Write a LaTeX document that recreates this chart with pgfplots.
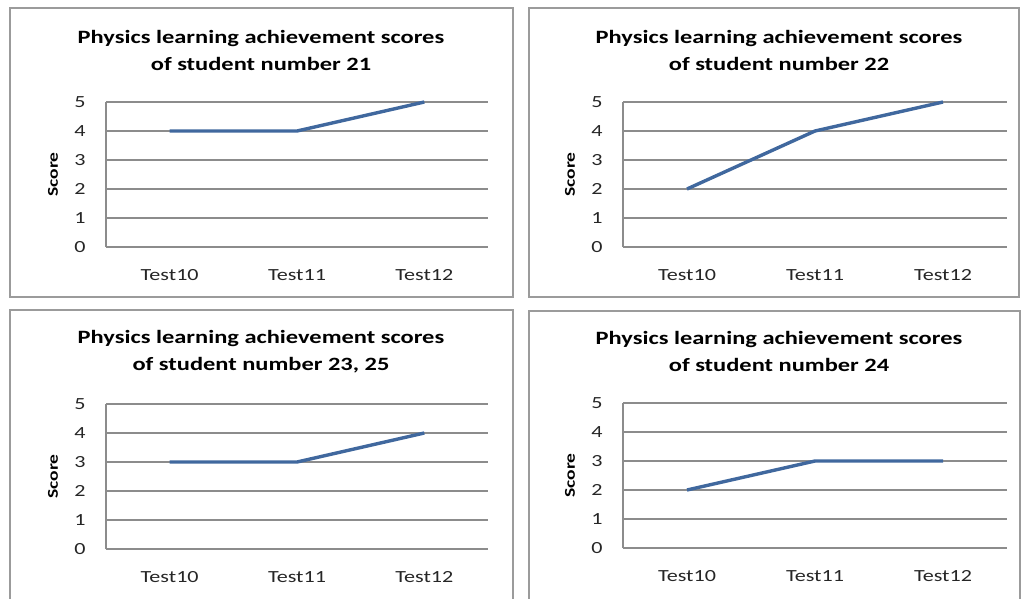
\documentclass[border=0pt]{standalone}
\usepackage{fontspec}
\setmainfont[FakeStretch=1.3]{Carlito}
\usepackage{pgfplots}
\pgfplotsset{compat=1.18}

\definecolor{serieblue}{RGB}{64,104,158}
\definecolor{gridgray}{RGB}{140,140,140}
\definecolor{framegray}{RGB}{155,155,155}

\pgfplotsset{
  panel/.style={
    scale only axis, width=382pt, height=145pt,
    xmin=-0.5, xmax=2.5, ymin=0, ymax=5,
    xtick={0,1,2}, xticklabels={Test10,Test11,Test12},
    ytick={0,...,5},
    axis x line*=bottom, axis y line*=left,
    axis line style={gridgray, line width=1.4pt, -},
    major tick length=0pt,
    ymajorgrids, grid style={gridgray, line width=1.4pt},
    tick label style={font=\fontsize{17}{20}\selectfont, text=black!85},
    /pgf/number format/assume math mode=true,
    xticklabel style={yshift=-19pt},
    yticklabel style={xshift=-17pt},
    ylabel={Score},
    every axis y label/.style={at={([xshift=-53pt]axis description cs:0,0.5)},
      rotate=90, anchor=center, font=\bfseries\fontsize{15}{18}\selectfont},
    title style={at={([xshift=-36pt, yshift=46pt]axis description cs:0.5,1)},
      anchor=center, align=center, font=\bfseries\fontsize{18.8}{27}\selectfont},
    clip=false,
  },
  scoreline/.style={serieblue, line width=3.4pt, no markers},
}

\begin{document}
\begin{tikzpicture}[x=1pt,y=1pt]
\useasboundingbox (0,0) rectangle (1022,598);
\clip (0,0) rectangle (1022,598);

% panel frames
\draw[framegray, line width=2pt] (9.5,590) rectangle (513,301);
\draw[framegray, line width=2pt] (529,590) rectangle (1019,301);
\draw[framegray, line width=2pt] (10,288) rectangle (513,-5);
\draw[framegray, line width=2pt] (529,287) rectangle (1020,-5);

% student 21
\begin{axis}[panel, at={(106pt,351pt)}, anchor=south west,
  title={Physics learning achievement scores\\of student number 21}]
  \addplot[scoreline] coordinates {(0,4) (1,4) (2,5)};
\end{axis}

% student 22
\begin{axis}[panel, width=384pt, at={(623pt,351pt)}, anchor=south west,
  title={Physics learning achievement scores\\of student number 22}]
  \addplot[scoreline] coordinates {(0,2) (1,4) (2,5)};
\end{axis}

% students 23 and 25
\begin{axis}[panel, at={(106pt,49pt)}, anchor=south west,
  title={Physics learning achievement scores\\of student number 23, 25}]
  \addplot[scoreline] coordinates {(0,3) (1,3) (2,4)};
\end{axis}

% student 24
\begin{axis}[panel, width=384pt, at={(623pt,50pt)}, anchor=south west,
  title={Physics learning achievement scores\\of student number 24}]
  \addplot[scoreline] coordinates {(0,2) (1,3) (2,3)};
\end{axis}
\end{tikzpicture}
\end{document}
